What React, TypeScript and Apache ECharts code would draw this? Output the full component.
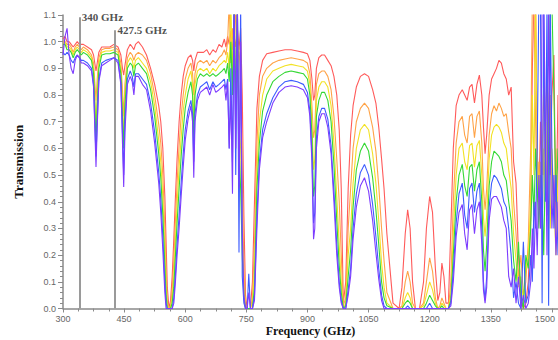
import React, { useEffect, useRef } from 'react';
import * as echarts from 'echarts';

// Frequency grid (GHz)
const freq = [
  300, 305, 310, 315, 320, 325, 330, 335, 340, 345, 350, 360, 370, 375, 378, 381, 384, 388, 395, 405, 415, 425, 435, 442, 446, 449, 452, 458, 465, 470, 474, 478, 485, 495,
  505, 515, 525, 535, 540, 545, 550, 553, 556, 560, 564, 568, 572, 576, 580, 585, 590, 595, 600, 607, 614, 618, 621, 624, 630, 637,
  645, 653, 660, 668, 675, 683, 690, 696, 700, 704, 708, 712, 716, 720, 724, 728, 732, 736, 740, 744, 748, 752, 756, 760, 765, 770,
  776, 782, 790, 800, 815, 830, 845, 860, 875, 890, 900, 906, 911, 915, 918, 922, 928, 935, 942, 950, 958, 965, 972, 978, 983, 988, 994, 1000,
  1006, 1012, 1020, 1030, 1040, 1050, 1060, 1068, 1075, 1082, 1088, 1095, 1110, 1125, 1132, 1140, 1146, 1152, 1158, 1165, 1175, 1185, 1192, 1200, 1207, 1214, 1220, 1225, 1230, 1235, 1240, 1246,
  1252, 1258, 1265, 1272, 1280, 1286, 1292, 1298, 1304, 1310, 1316, 1322, 1328, 1332, 1336, 1340, 1346, 1352, 1358, 1364, 1370, 1376, 1382, 1388, 1394, 1400, 1406, 1412, 1418, 1424, 1430, 1436,
  1442, 1448, 1452, 1456, 1460, 1464, 1468, 1472, 1476, 1480, 1484, 1488, 1492, 1496, 1500, 1505, 1510, 1515, 1519,
];

const red = [
  1.01, 1.02, 1.0, 1.0, 0.99, 0.98, 0.99, 1.0, 0.99, 0.99, 0.99, 0.98, 0.97, 0.95, 0.92, 0.89, 0.92, 0.96, 0.98, 0.98, 0.98, 0.99, 0.98, 0.95, 0.9, 0.875, 0.91, 0.97, 0.99, 0.98, 0.97, 0.99, 1.0, 0.98,
  0.95, 0.9, 0.84, 0.76, 0.7, 0.6, 0.42, 0.25, 0.08, 0.0, 0.03, 0.12, 0.26, 0.42, 0.56, 0.7, 0.8, 0.87, 0.91, 0.94, 0.95, 0.93, 0.89, 0.93, 0.96, 0.96,
  0.96, 0.97, 0.95, 0.97, 0.96, 0.99, 0.98, 1.01, 0.98, 1.02, 0.99, 1.04, 0.97, 1.02, 0.98, 1.05, 0.97, 1.05, 0.8, 0.35, 0.05, 0, 0, 0, 0.1, 0.4,
  0.75, 0.87, 0.93, 0.955, 0.96, 0.965, 0.97, 0.97, 0.965, 0.96, 0.955, 0.93, 0.86, 0.78, 0.8, 0.9, 0.94, 0.95, 0.95, 0.93, 0.91, 0.87, 0.8, 0.67, 0.45, 0.02, 0.1, 0.45,
  0.65, 0.76, 0.83, 0.87, 0.88, 0.87, 0.82, 0.77, 0.68, 0.56, 0.45, 0.28, 0.02, 0.0, 0.08, 0.28, 0.37, 0.3, 0.1, 0.0, 0.0, 0.1, 0.3, 0.42, 0.36, 0.15, 0.03, 0.06, 0.17, 0.12, 0.02, 0.02,
  0.3, 0.6, 0.76, 0.8, 0.82, 0.8, 0.78, 0.83, 0.84, 0.77, 0.84, 0.875, 0.8, 0.68, 0.58, 0.65, 0.8, 0.86, 0.88, 0.9, 0.93, 0.92, 0.88, 0.86, 0.8, 0.83, 0.55, 0.47, 0.2, 0.03, 0.0, 0.02,
  0.1, 0.35, 0.9, 1.15, 1.15, 0.6, 0.4, 0.7, 0.5, 0.85, 0.6, 0.9, 0.7, 0.5, 0.8, 0.95, 0.3, 0.8, 0.6,
];

const orange = [
  1.0, 1.0, 0.99, 0.99, 0.98, 0.96, 0.98, 0.99, 0.98, 0.97, 0.98, 0.97, 0.95, 0.92, 0.85, 0.78, 0.86, 0.94, 0.97, 0.975, 0.975, 0.98, 0.97, 0.92, 0.82, 0.72, 0.84, 0.94, 0.96, 0.95, 0.93, 0.95, 0.96, 0.95,
  0.93, 0.88, 0.8, 0.69, 0.62, 0.5, 0.3, 0.15, 0.03, 0, 0.01, 0.07, 0.18, 0.33, 0.47, 0.61, 0.72, 0.8, 0.86, 0.9, 0.92, 0.88, 0.8, 0.88, 0.92, 0.93,
  0.92, 0.93, 0.91, 0.93, 0.92, 0.94, 0.95, 0.97, 0.95, 1.0, 1.15, 0.92, 1.05, 0.95, 1.15, 0.9, 0.98, 0.85, 0.5, 0.15, 0.01, 0, 0, 0, 0.04, 0.25,
  0.62, 0.8, 0.87, 0.9, 0.92, 0.93, 0.935, 0.94, 0.935, 0.93, 0.92, 0.88, 0.76, 0.64, 0.67, 0.84, 0.88, 0.89, 0.89, 0.87, 0.82, 0.72, 0.56, 0.4, 0.2, 0.01, 0.04, 0.3,
  0.45, 0.6, 0.7, 0.75, 0.77, 0.75, 0.68, 0.59, 0.46, 0.3, 0.18, 0.06, 0, 0, 0.01, 0.1, 0.14, 0.1, 0.02, 0, 0, 0.02, 0.1, 0.19, 0.14, 0.04, 0, 0.01, 0.04, 0.02, 0, 0.0,
  0.1, 0.4, 0.62, 0.7, 0.72, 0.65, 0.62, 0.72, 0.73, 0.64, 0.72, 0.74, 0.62, 0.45, 0.37, 0.45, 0.65, 0.73, 0.76, 0.74, 0.77, 0.75, 0.72, 0.73, 0.66, 0.6, 0.4, 0.28, 0.12, 0.2, 0.05, 0.1,
  0.25, 0.6, 1.15, 1.15, 0.7, 0.4, 0.55, 0.3, 0.65, 0.5, 0.7, 0.45, 0.6, 0.8, 0.5, 0.35, 0.6, 0.4, 0.5,
];

const yellow = [
  0.99, 1.0, 0.98, 0.98, 0.97, 0.95, 0.97, 0.98, 0.97, 0.96, 0.97, 0.96, 0.94, 0.9, 0.8, 0.68, 0.8, 0.92, 0.96, 0.965, 0.965, 0.97, 0.96, 0.9, 0.76, 0.64, 0.8, 0.92, 0.94, 0.93, 0.9, 0.93, 0.94, 0.92,
  0.9, 0.85, 0.76, 0.63, 0.55, 0.42, 0.22, 0.09, 0.01, 0, 0, 0.04, 0.12, 0.26, 0.39, 0.53, 0.64, 0.74, 0.8, 0.86, 0.89, 0.84, 0.7, 0.84, 0.89, 0.9,
  0.89, 0.9, 0.88, 0.9, 0.89, 0.91, 0.92, 0.93, 0.92, 0.96, 0.9, 1.15, 0.85, 1.15, 0.8, 0.95, 0.7, 0.6, 0.3, 0.08, 0, 0, 0, 0, 0.02, 0.15,
  0.52, 0.7, 0.8, 0.86, 0.89, 0.9, 0.91, 0.915, 0.91, 0.905, 0.89, 0.84, 0.7, 0.52, 0.56, 0.78, 0.83, 0.85, 0.85, 0.83, 0.76, 0.62, 0.42, 0.24, 0.1, 0, 0.02, 0.2,
  0.3, 0.47, 0.6, 0.67, 0.69, 0.67, 0.58, 0.47, 0.33, 0.17, 0.08, 0.02, 0, 0, 0, 0.04, 0.06, 0.04, 0, 0, 0, 0.01, 0.05, 0.1, 0.07, 0.02, 0, 0, 0.02, 0.01, 0, 0,
  0.05, 0.28, 0.5, 0.6, 0.62, 0.55, 0.52, 0.61, 0.62, 0.53, 0.61, 0.63, 0.5, 0.34, 0.27, 0.35, 0.56, 0.65, 0.68, 0.69, 0.68, 0.66, 0.62, 0.6, 0.52, 0.45, 0.28, 0.18, 0.08, 0.12, 0.03, 0.15,
  0.2, 0.4, 0.8, 0.5, 1.15, 0.6, 0.35, 0.55, 0.3, 0.6, 0.45, 0.7, 0.5, 0.3, 0.6, 0.4, 0.2, 0.5, 0.3,
];

const green = [
  0.99, 0.99, 0.97, 0.97, 0.96, 0.94, 0.96, 0.97, 0.96, 0.95, 0.96, 0.95, 0.93, 0.88, 0.76, 0.62, 0.76, 0.9, 0.95, 0.955, 0.955, 0.96, 0.95, 0.88, 0.72, 0.6, 0.76, 0.9, 0.92, 0.91, 0.87, 0.91, 0.92, 0.9,
  0.88, 0.82, 0.72, 0.58, 0.49, 0.35, 0.16, 0.05, 0, 0, 0, 0.02, 0.08, 0.2, 0.32, 0.45, 0.57, 0.67, 0.75, 0.81, 0.85, 0.8, 0.63, 0.8, 0.86, 0.88,
  0.87, 0.88, 0.87, 0.88, 0.87, 0.88, 0.89, 0.9, 0.88, 0.92, 0.85, 1.0, 0.8, 1.15, 0.75, 1.15, 0.6, 0.45, 0.2, 0.04, 0, 0, 0, 0, 0, 0.08,
  0.45, 0.62, 0.74, 0.8, 0.85, 0.87, 0.885, 0.89, 0.885, 0.88, 0.86, 0.8, 0.65, 0.42, 0.46, 0.72, 0.78, 0.81, 0.81, 0.78, 0.7, 0.54, 0.33, 0.16, 0.06, 0, 0.01, 0.12,
  0.22, 0.38, 0.52, 0.59, 0.62, 0.59, 0.49, 0.37, 0.24, 0.1, 0.04, 0.01, 0, 0, 0, 0.02, 0.03, 0.02, 0, 0, 0, 0, 0.02, 0.05, 0.03, 0.01, 0, 0, 0.01, 0, 0, 0,
  0.03, 0.2, 0.4, 0.5, 0.54, 0.46, 0.42, 0.53, 0.54, 0.44, 0.52, 0.55, 0.4, 0.22, 0.14, 0.24, 0.46, 0.55, 0.59, 0.58, 0.57, 0.55, 0.5, 0.48, 0.4, 0.33, 0.18, 0.1, 0.25, 0.05, 0, 0.2,
  0.15, 0.3, 0.5, 0.35, 0.6, 0.45, 0.3, 0.5, 0.4, 0.2, 0.55, 0.35, 0.6, 1.15, 1.15, 0.8, 0.4, 0.6, 0.3,
];

const blue = [
  0.96, 0.95, 0.96, 0.95, 0.93, 0.92, 0.94, 0.95, 0.94, 0.93, 0.93, 0.92, 0.9, 0.84, 0.7, 0.57, 0.7, 0.86, 0.92, 0.93, 0.935, 0.94, 0.93, 0.85, 0.66, 0.5, 0.7, 0.86, 0.89, 0.87, 0.83, 0.88, 0.88, 0.86,
  0.84, 0.77, 0.66, 0.51, 0.41, 0.27, 0.1, 0.02, 0, 0, 0, 0, 0.04, 0.13, 0.24, 0.35, 0.47, 0.58, 0.67, 0.74, 0.78, 0.73, 0.55, 0.73, 0.8, 0.83,
  0.84, 0.85, 0.82, 0.85, 0.83, 0.84, 0.85, 0.86, 0.82, 0.86, 0.6, 0.9, 0.55, 1.15, 0.5, 1.15, 0.21, 1.15, 0.12, 0.02, 0, 0, 0.13, 0, 0, 0.05,
  0.35, 0.55, 0.67, 0.73, 0.79, 0.83, 0.85, 0.855, 0.85, 0.84, 0.81, 0.74, 0.58, 0.32, 0.36, 0.64, 0.72, 0.75, 0.75, 0.71, 0.61, 0.44, 0.24, 0.1, 0.03, 0, 0, 0.07,
  0.15, 0.3, 0.43, 0.51, 0.54, 0.5, 0.39, 0.27, 0.15, 0.05, 0.01, 0, 0, 0, 0, 0, 0.01, 0, 0, 0, 0, 0, 0, 0.02, 0, 0, 0, 0, 0, 0, 0, 0,
  0.02, 0.14, 0.32, 0.43, 0.47, 0.35, 0.3, 0.45, 0.47, 0.36, 0.44, 0.47, 0.3, 0.1, 0.03, 0.12, 0.38, 0.47, 0.5, 0.49, 0.47, 0.45, 0.4, 0.38, 0.3, 0.2, 0.04, 0.1, 0.02, 0, 0.25, 0.02,
  0.05, 0.2, 0.1, 0.4, 0.3, 0.6, 1.15, 1.15, 0.02, 1.15, 0.4, 1.15, 0.01, 1.15, 0.6, 0.3, 0.5, 0.2, 0.4,
];

const violet = [
  0.95, 1.02, 1.05, 0.95, 0.9, 0.88, 0.93, 0.95, 0.94, 0.92, 0.92, 0.91, 0.89, 0.83, 0.68, 0.53, 0.68, 0.85, 0.91, 0.92, 0.93, 0.94, 0.92, 0.84, 0.62, 0.455, 0.66, 0.84, 0.87, 0.85, 0.8, 0.87, 0.87, 0.84,
  0.82, 0.74, 0.62, 0.47, 0.36, 0.22, 0.06, 0, 0, 0, 0, 0, 0.02, 0.1, 0.2, 0.3, 0.42, 0.53, 0.63, 0.71, 0.76, 0.7, 0.49, 0.7, 0.78, 0.81,
  0.82, 0.83, 0.8, 0.84, 0.81, 0.82, 0.83, 0.84, 0.78, 0.85, 0.6, 0.8, 0.43, 1.15, 0.6, 1.15, 0.45, 1.0, 0.3, 0.05, 0, 0, 0.06, 0, 0, 0.03,
  0.3, 0.52, 0.64, 0.7, 0.77, 0.81, 0.83, 0.835, 0.83, 0.82, 0.79, 0.72, 0.55, 0.26, 0.3, 0.6, 0.7, 0.73, 0.73, 0.68, 0.58, 0.4, 0.2, 0.08, 0.02, 0, 0, 0.05,
  0.12, 0.26, 0.38, 0.46, 0.49, 0.44, 0.33, 0.21, 0.11, 0.03, 0, 0, 0, 0, 0, 0, 0, 0, 0, 0, 0, 0, 0, 0, 0, 0, 0, 0, 0, 0, 0, 0,
  0.01, 0.1, 0.27, 0.36, 0.39, 0.28, 0.22, 0.37, 0.39, 0.28, 0.37, 0.4, 0.24, 0.07, 0.02, 0.08, 0.33, 0.41, 0.42, 0.42, 0.4, 0.38, 0.33, 0.3, 0.12, 0.08, 0.15, 0.02, 0.12, 0, 0.05, 0,
  0.02, 0.1, 0.3, 0.15, 0.4, 0.2, 0.5, 0.3, 1.15, 1.15, 0.7, 0.2, 1.15, 0.6, 0.3, 0.5, 0.2, 0.4, 0.3,
];

const seriesNames = ['Profile 1', 'Profile 2', 'Profile 3', 'Profile 4', 'Profile 5', 'Profile 6'];
const seriesValues = [red, orange, yellow, green, blue, violet];
const seriesColors = ['#ff5a5a', '#ffa347', '#f2e224', '#35d835', '#3c5cff', '#7d3cff'];

// Annotations
const markerFreq = [340, 427.5];
const markerTop = [1.092, 1.043];
const markerText = ['340 GHz', '427.5 GHz'];

const xTicks = { min: 300, max: 1515, interval: 150 };
const yTicks = { min: 0, max: 1.1, interval: 0.1 };

export default function App() {
  const ref = useRef<HTMLDivElement>(null);

  useEffect(() => {
    document.body.style.margin = '0';
    if (!ref.current) return;
    const chart = echarts.init(ref.current, undefined, { renderer: 'svg' });

    const lineSeries = seriesValues.map((vals, k) => ({
      name: seriesNames[k],
      type: 'line',
      data: freq.slice(0, vals.length).map((f, i) => [f, vals[i]]),
      showSymbol: false,
      symbol: 'none',
      clip: true,
      silent: true,
      lineStyle: { color: seriesColors[k], width: 1.1 },
      itemStyle: { color: seriesColors[k] },
      z: 2 + k,
    }));

    const serif = "'Liberation Serif', 'Times New Roman', serif";
    const sans = "'Liberation Sans', Arial, sans-serif";

    const annotation = {
      name: 'markers',
      type: 'scatter',
      silent: true,
      symbolSize: 1,
      itemStyle: { color: 'rgba(0,0,0,0)' },
      z: 20,
      data: markerFreq.map((f, i) => ({ value: [f, markerTop[i]], name: markerText[i] })),
      label: {
        show: true,
        position: 'right',
        distance: 2,
        offset: [0, 2],
        formatter: (p: any) => p.name,
        fontFamily: serif,
        fontWeight: 'bold',
        fontSize: 11,
        color: '#222',
      },
      labelLayout: { hideOverlap: false },
      markLine: {
        silent: true,
        symbol: 'none',
        animation: false,
        label: { show: false },
        lineStyle: { color: '#9a9a9a', width: 2, type: 'solid' },
        data: markerFreq.map((f, i) => [{ coord: [f, markerTop[i]] }, { coord: [f, 0] }]),
      },
    };

    chart.setOption({
      animation: false,
      backgroundColor: '#ffffff',
      grid: { left: 63, right: 0, top: 15, bottom: 31.5, containLabel: false, outerBoundsMode: 'none' },
      xAxis: {
        type: 'value',
        min: xTicks.min,
        max: xTicks.max,
        interval: xTicks.interval,
        name: 'Frequency (GHz)',
        nameLocation: 'middle',
        nameGap: 16.5,
        nameMoveOverlap: false,
        nameTextStyle: { fontFamily: serif, fontWeight: 'bold', fontSize: 12, color: '#111' },
        axisLine: { show: true, onZero: false, lineStyle: { color: '#8a8a8a', width: 1.5 } },
        axisTick: { show: true, length: 4, lineStyle: { color: '#8a8a8a', width: 1 } },
        minorTick: { show: true, splitNumber: 4, length: 3, lineStyle: { color: '#8a8a8a', width: 1 } },
        splitLine: { show: false },
        axisLabel: {
          showMaxLabel: false,
          margin: 6,
          fontSize: 9,
          fontFamily: sans,
          color: '#666',
          formatter: (v: number) => (v >= 1500 ? '{edge|' + v + '}' : String(v)),
          rich: {
            edge: { fontSize: 9, fontFamily: sans, color: '#666', padding: [0, 14, 0, 0] },
          },
        },
      },
      yAxis: {
        type: 'value',
        min: yTicks.min,
        max: yTicks.max,
        interval: yTicks.interval,
        name: 'Transmission',
        nameLocation: 'middle',
        nameGap: 38,
        nameTextStyle: { fontFamily: serif, fontWeight: 'bold', fontSize: 13, color: '#111' },
        axisLine: { show: true, lineStyle: { color: '#8a8a8a', width: 1.5 } },
        axisTick: { show: true, length: 5, lineStyle: { color: '#8a8a8a', width: 1 } },
        minorTick: { show: true, splitNumber: 5, length: 3, lineStyle: { color: '#8a8a8a', width: 1 } },
        splitLine: { show: false },
        axisLabel: {
          margin: 7,
          fontSize: 9,
          fontFamily: sans,
          color: '#666',
          formatter: (v: number) => v.toFixed(1),
        },
      },
      series: [...lineSeries, annotation],
    });

    return () => chart.dispose();
  }, []);

  return (
    <div
      ref={ref}
      style={{ position: 'absolute', left: 0, top: 0, width: 558, height: 340, background: '#fff' }}
    />
  );
}
